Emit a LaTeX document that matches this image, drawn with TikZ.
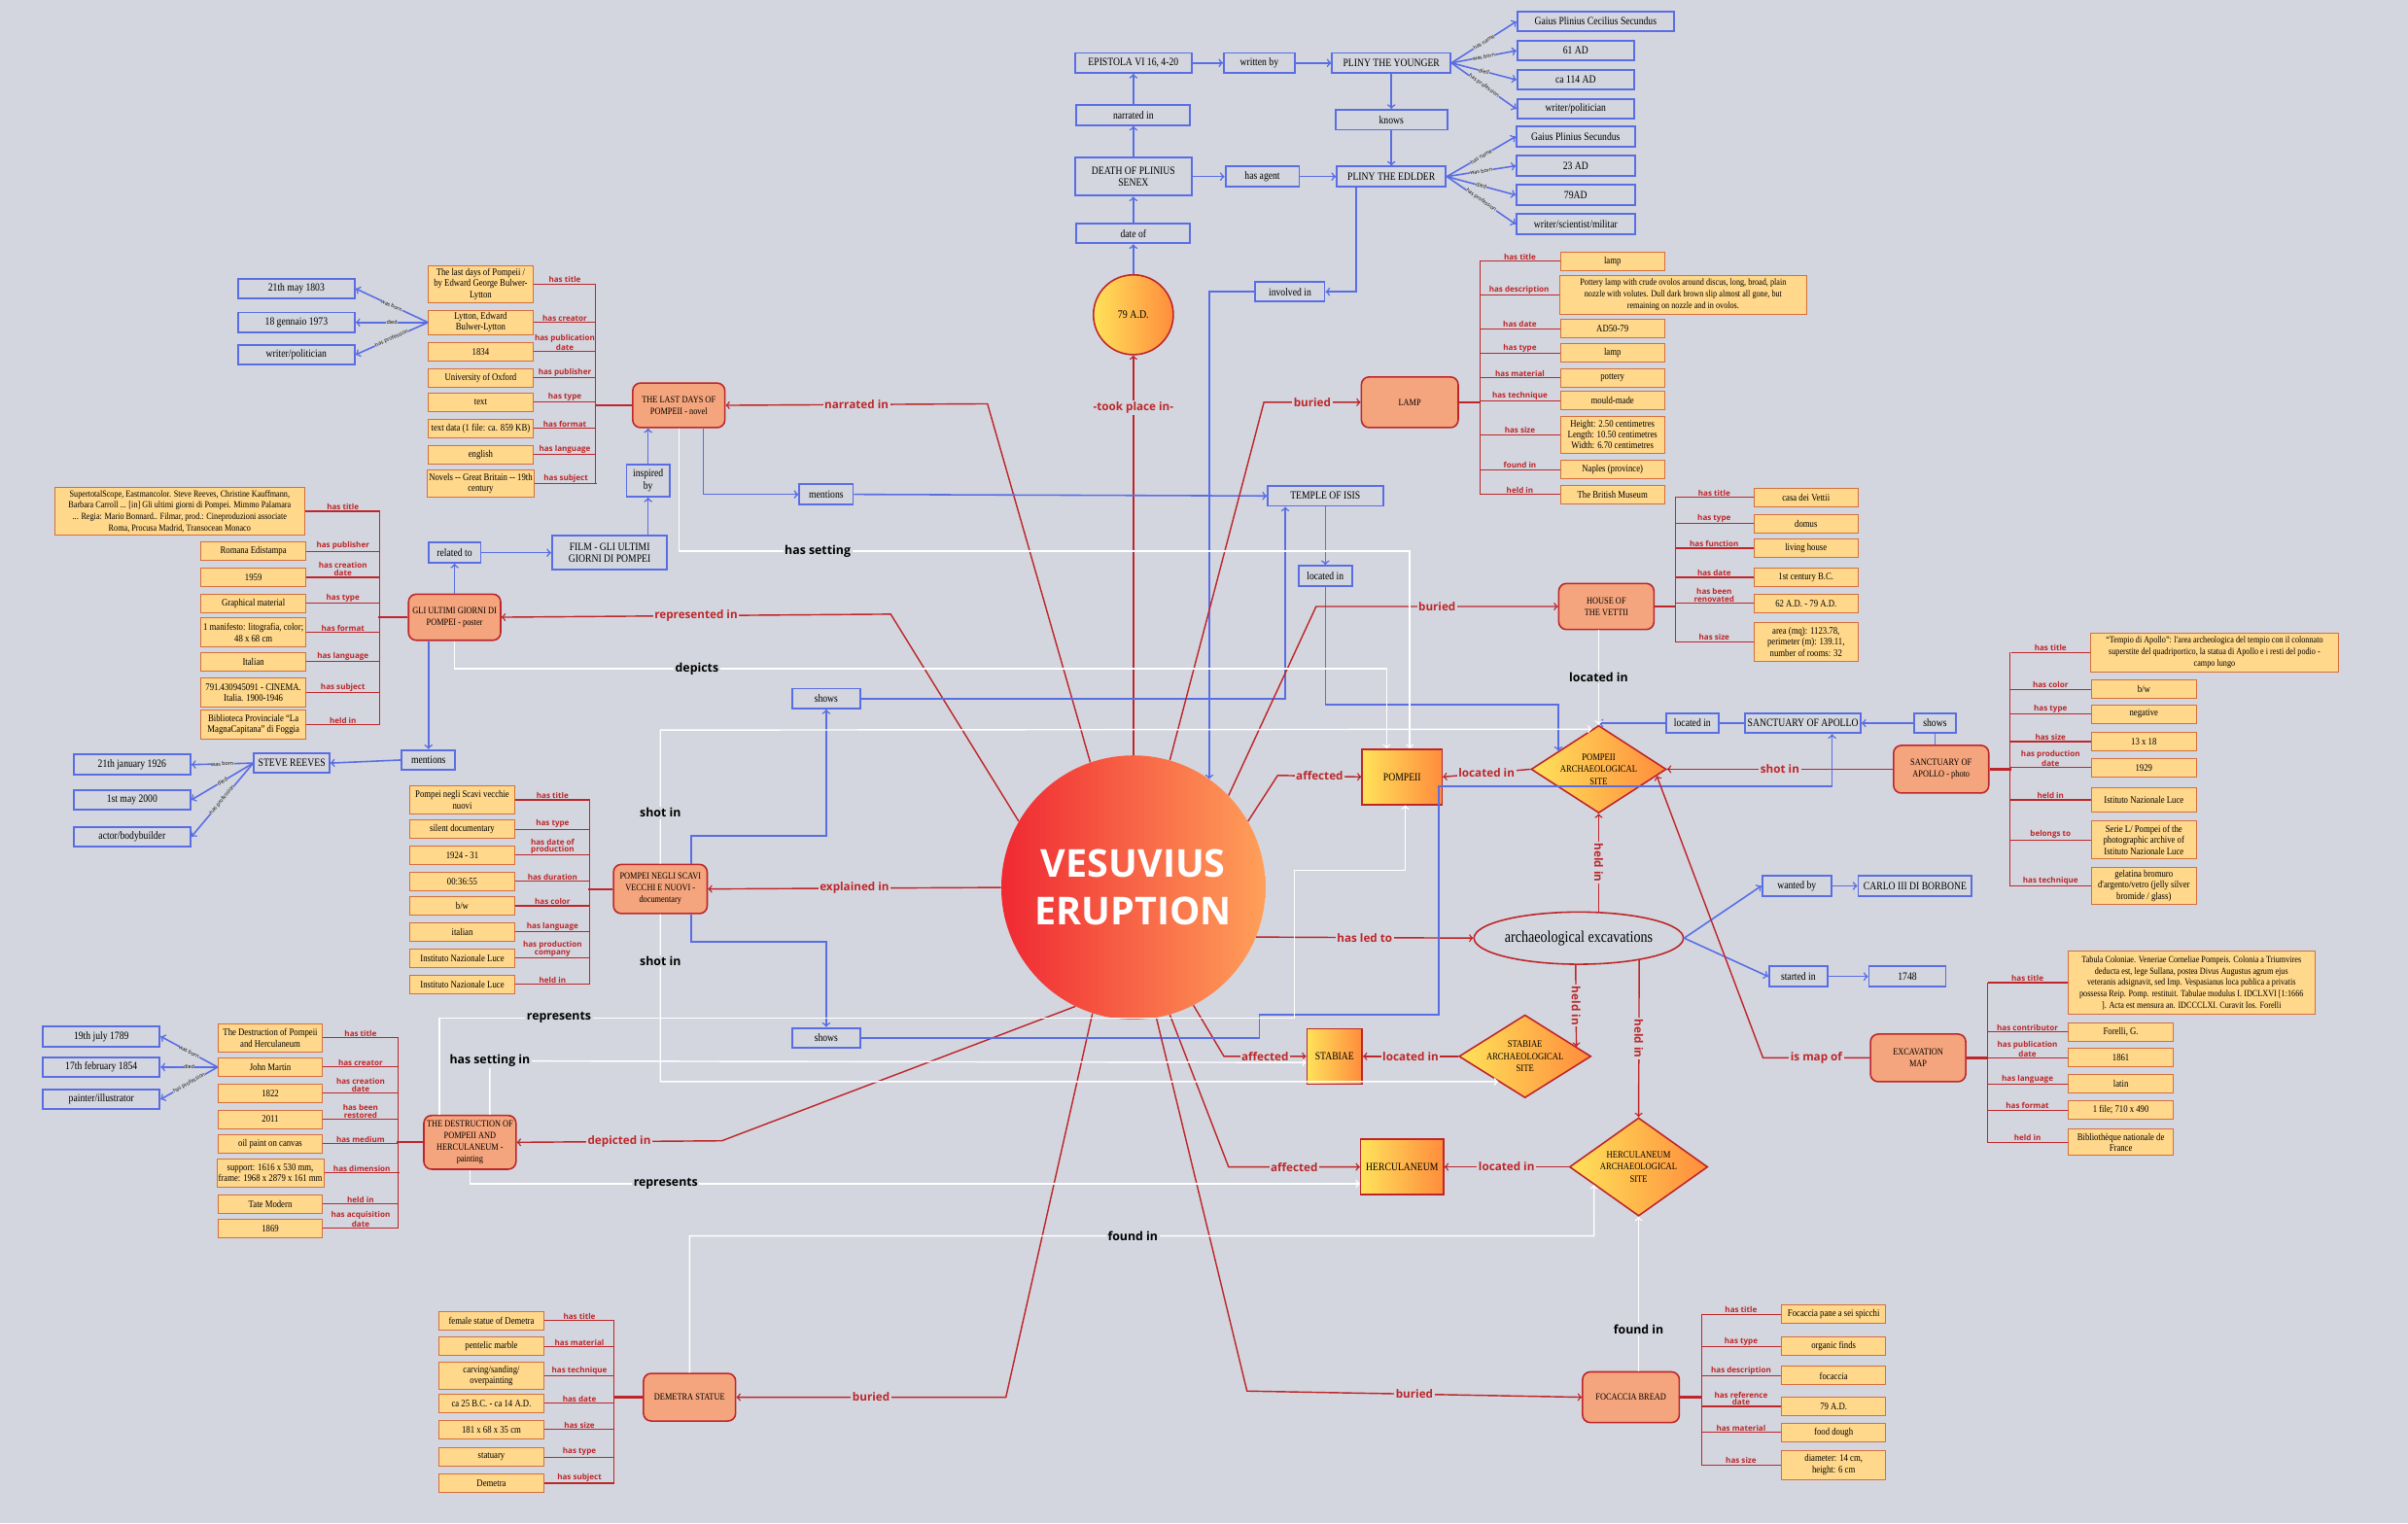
\documentclass[tikz,border=0pt]{standalone}
\usepackage{fontspec}
\setmainfont{Liberation Serif}
\newfontfamily\boxfont[FakeStretch=0.85]{Liberation Serif}
\newfontfamily\labfont{Open Sans}
\usetikzlibrary{shapes.geometric,calc}

\definecolor{bgc}{RGB}{211,214,222}
\definecolor{bluec}{RGB}{90,110,228}
\definecolor{redc}{RGB}{190,38,42}
\definecolor{attrc}{RGB}{255,216,140}
\definecolor{attrd}{RGB}{214,110,60}
\definecolor{salmonc}{RGB}{245,165,125}
\definecolor{yellowc}{RGB}{255,226,90}
\definecolor{orangec}{RGB}{255,140,60}
\definecolor{eruptl}{RGB}{240,40,50}
\definecolor{eruptr}{RGB}{255,160,90}

\tikzset{
  bluebox/.style={draw=bluec, line width=1.2pt, fill=bgc, inner sep=1.5pt, minimum height=13pt, align=center, font=\boxfont\fontsize{7.2}{8}\selectfont},
  attrbox/.style={draw=attrd, line width=0.6pt, fill=attrc, inner sep=1pt, minimum width=68pt, minimum height=12pt, align=center, font=\boxfont\fontsize{6.5}{7.2}\selectfont},
  parbox/.style={attrbox, font=\boxfont\fontsize{6.1}{7.4}\selectfont},
  resbox/.style={draw=redc, line width=1pt, fill=salmonc, rounded corners=5pt, minimum width=61pt, minimum height=31pt, inner sep=1pt, align=center, font=\boxfont\fontsize{6.2}{7.6}\selectfont},
  placebox/.style={draw=redc, line width=1pt, left color=yellowc, right color=orangec, minimum height=36pt, inner sep=1pt, font=\boxfont\fontsize{7.2}{8}\selectfont},
  sitebox/.style={diamond, aspect=1.6, draw=redc, line width=1pt, left color=yellowc, right color=orangec, inner sep=0pt, align=center, font=\boxfont\fontsize{6.4}{7.8}\selectfont},
  redarr/.style={draw=redc, line width=0.9pt, ->},
  bluearr/.style={draw=bluec, line width=1pt, ->},
  blueln/.style={draw=bluec, line width=1pt},
  whitearr/.style={draw=white, line width=0.9pt, ->},
  attrln/.style={draw=redc, line width=0.7pt},
  redlab/.style={fill=bgc, inner sep=1pt, text=redc, font=\labfont\bfseries\fontsize{7.4}{8}\selectfont},
  blklab/.style={fill=bgc, inner sep=1pt, text=black, font=\labfont\bfseries\fontsize{7.8}{8}\selectfont},
  attrlab/.style={inner sep=0.5pt, text=redc, align=center, font=\labfont\bfseries\fontsize{5.1}{4.8}\selectfont},
  fanlab/.style={sloped, fill=bgc, inner sep=0.2pt, text=black, font=\labfont\fontsize{3.4}{3.4}\selectfont},
}

\begin{document}
\begin{tikzpicture}[x=1pt,y=-1pt]
    \fill[bgc] (0,0) rectangle (1568,992);
    \useasboundingbox (0,0) rectangle (1568,992);

    %eruption
    \node[circle, minimum size=172pt, inner sep=0pt, left color=eruptl, right color=eruptr, text=white, align=center, font=\labfont\bfseries\fontsize{25}{31}\selectfont] (V) at (738,578) {VESUVIUS\\ERUPTION};
    \node[circle, draw=redc, line width=1pt, minimum size=52pt, inner sep=0pt, left color=yellowc, right color=orangec, font=\boxfont\fontsize{7.4}{8}\selectfont] (T79) at (738,205) {79 A.D.};

    %pliny
    \node[bluebox, minimum width=76pt] (EP) at (738,41) {EPISTOLA VI 16, 4-20};
    \node[bluebox, minimum width=46pt] (WB) at (820,41) {written by};
    \node[bluebox, minimum width=77pt] (PY) at (906,41) {PLINY THE YOUNGER};
    \node[bluebox, minimum width=102pt] (PYn) at (1039,14) {Gaius Plinius Cecilius Secundus};
    \node[bluebox, minimum width=76pt] (PYb) at (1026,33) {61 AD};
    \node[bluebox, minimum width=76pt] (PYd) at (1026,52) {ca 114 AD};
    \node[bluebox, minimum width=76pt] (PYp) at (1026,71) {writer/politician};
    \node[bluebox, minimum width=74pt] (NI) at (738,75) {narrated in};
    \node[bluebox, minimum width=73pt] (KN) at (906,78) {knows};
    \node[bluebox, minimum width=76pt, minimum height=25pt] (DP) at (738,115) {DEATH OF PLINIUS\\SENEX};
    \node[bluebox, minimum width=48pt] (HA) at (822,115) {has agent};
    \node[bluebox, minimum width=71pt] (PE) at (906,115) {PLINY THE EDLDER};
    \node[bluebox, minimum width=77pt] (PEn) at (1026,89) {Gaius Plinius Secundus};
    \node[bluebox, minimum width=77pt] (PEb) at (1026,108) {23 AD};
    \node[bluebox, minimum width=77pt] (PEd) at (1026,127) {79AD};
    \node[bluebox, minimum width=77pt] (PEp) at (1026,146) {writer/scientist/militar};
    \node[bluebox, minimum width=74pt] (DO) at (738,152) {date of};
    \node[bluebox, minimum width=45pt] (INV) at (840,190) {involved in};

    \draw[bluearr] (T79.north) -- (DO.south);
    \draw[bluearr] (DO.north) -- (DP.south);
    \draw[bluearr] (DP.north) -- (NI.south);
    \draw[bluearr] (NI.north) -- (EP.south);
    \draw[bluearr] (EP.east) -- (WB.west);
    \draw[bluearr] (WB.east) -- (PY.west);
    \draw[bluearr] (DP.east) -- (HA.west);
    \draw[bluearr] (HA.east) -- (PE.west);
    \draw[bluearr] (PY.south) -- (KN.north);
    \draw[bluearr] (KN.south) -- (PE.north);
    \draw[bluearr] (PY.east) -- node[fanlab]{has name} (PYn.west);
    \draw[bluearr] (PY.east) -- node[fanlab]{was born} (PYb.west);
    \draw[bluearr] (PY.east) -- node[fanlab]{died} (PYd.west);
    \draw[bluearr] (PY.east) -- node[fanlab]{has profession} (PYp.west);
    \draw[bluearr] (PE.east) -- node[fanlab]{has name} (PEn.west);
    \draw[bluearr] (PE.east) -- node[fanlab]{was born} (PEb.west);
    \draw[bluearr] (PE.east) -- node[fanlab]{died} (PEd.west);
    \draw[bluearr] (PE.east) -- node[fanlab]{has profession} (PEp.west);
    \draw[bluearr] ([xshift=-23pt]PE.south) |- (INV.east);
    \draw[bluearr] (INV.west) -| (V.55);
    \draw[redarr] (V.north) -- node[redlab, pos=0.87]{-took place in-} (T79.south);

    %novel
    \node[resbox, minimum width=60pt, minimum height=29pt] (NOV) at (442,264) {THE LAST DAYS OF\\POMPEII - novel};
    \node[attrbox, minimum height=24pt] (nov1) at (313,185) {The last days of Pompeii /\\by Edward George Bulwer-\\Lytton};
    \node[attrbox, minimum height=16pt] (nov2) at (313,210) {Lytton, Edward\\Bulwer-Lytton};
    \node[attrbox] (nov3) at (313,229) {1834};
    \node[attrbox] (nov4) at (313,246) {University of Oxford};
    \node[attrbox] (nov5) at (313,262) {text};
    \node[attrbox] (nov6) at (313,279) {text data (1 file: ca. 859 KB)};
    \node[attrbox] (nov7) at (313,296) {english};
    \node[attrbox, minimum height=18pt] (nov8) at (313,315) {Novels -- Great Britain -- 19th\\century};
    \draw[attrln] (nov1.east) -- +(41,0) node[attrlab, midway, above]{has title};
    \draw[attrln] (nov2.east) -- +(41,0) node[attrlab, midway, above]{has creator};
    \draw[attrln] (nov3.east) -- +(41,0) node[attrlab, midway, above]{has publication\\date};
    \draw[attrln] (nov4.east) -- +(41,0) node[attrlab, midway, above]{has publisher};
    \draw[attrln] (nov5.east) -- +(41,0) node[attrlab, midway, above]{has type};
    \draw[attrln] (nov6.east) -- +(41,0) node[attrlab, midway, above]{has format};
    \draw[attrln] (nov7.east) -- +(41,0) node[attrlab, midway, above]{has language};
    \draw[attrln] (nov8.east) -- +(41,0) node[attrlab, midway, above]{has subject};
    \draw[attrln] (388,185) -- (388,315);
    \draw[attrln, line width=1.4pt] (NOV.west) -- +(-24,0);
    \node[bluebox, minimum width=76pt] (LYa) at (193,188) {21th may 1803};
    \node[bluebox, minimum width=76pt] (LYb) at (193,210) {18 gennaio 1973};
    \node[bluebox, minimum width=76pt] (LYc) at (193,231) {writer/politician};
    \draw[bluearr] (nov2.west) -- node[fanlab]{was born} (LYa.east);
    \draw[bluearr] (nov2.west) -- node[fanlab]{died} (LYb.east);
    \draw[bluearr] (nov2.west) -- node[fanlab]{has profession} (LYc.east);
    \draw[redarr] (V.109) -- (643,263) -- node[redlab]{narrated in} (NOV.east);

    \node[bluebox, minimum width=28pt, minimum height=21pt] (INSP) at (422,313) {inspired\\by};
    \node[bluebox, minimum width=75pt, minimum height=22pt] (FILM) at (397,360) {FILM - GLI ULTIMI\\GIORNI DI POMPEI};
    \node[bluebox, minimum width=34pt] (REL) at (296,360) {related to};
    \node[bluebox, minimum width=35pt] (MEN1) at (538,322) {mentions};
    \node[bluebox, minimum width=75pt] (TOI) at (863,323) {TEMPLE OF ISIS};
    \node[bluebox, minimum width=35pt] (LOC1) at (863,375) {located in};
    \draw[bluearr] (INSP.south |- FILM.north) -- (INSP.south);
    \draw[bluearr] (INSP.north) -- (INSP.north |- NOV.south);
    \draw[bluearr] ([xshift=16pt]NOV.south) |- (MEN1.west);
    \draw[bluearr] (MEN1.east) -- (TOI.west);
    \draw[bluearr] (TOI.south) -- (LOC1.north);

    %poster
    \node[resbox, minimum width=60pt, minimum height=30pt] (POS) at (296,402) {GLI ULTIMI GIORNI DI\\POMPEI - poster};
    \node[parbox, minimum width=163pt, minimum height=31pt] (pos1) at (117,333) {SupertotalScope, Eastmancolor. Steve Reeves, Christine Kauffmann,\\Barbara Carroll ... [in] Gli ultimi giorni di Pompei. Mimmo Palamara\\... Regia: Mario Bonnard.. Filmar, prod.: Cineproduzioni associate\\Roma, Procusa Madrid, Transocean Monaco};
    \node[attrbox] (pos2) at (165,359) {Romana Edistampa};
    \node[attrbox] (pos3) at (165,376) {1959};
    \node[attrbox] (pos4) at (165,393) {Graphical material};
    \node[attrbox, minimum height=19pt] (pos5) at (165,412) {1 manifesto: litografia, color;\\48 x 68 cm};
    \node[attrbox] (pos6) at (165,431) {Italian};
    \node[attrbox, minimum height=19pt] (pos7) at (165,451) {791.430945091 - CINEMA.\\Italia. 1900-1946};
    \node[attrbox, minimum height=19pt] (pos8) at (165,472) {Biblioteca Provinciale “La\\MagnaCapitana” di Foggia};
    \draw[attrln] (pos1.east) -- +(49,0) node[attrlab, midway, above]{has title};
    \draw[attrln] (pos2.east) -- +(48,0) node[attrlab, midway, above]{has publisher};
    \draw[attrln] (pos3.east) -- +(48,0) node[attrlab, midway, above]{has creation\\date};
    \draw[attrln] (pos4.east) -- +(48,0) node[attrlab, midway, above]{has type};
    \draw[attrln] (pos5.east) -- +(48,0) node[attrlab, midway, above]{has format};
    \draw[attrln] (pos6.east) -- +(48,0) node[attrlab, midway, above]{has language};
    \draw[attrln] (pos7.east) -- +(48,0) node[attrlab, midway, above]{has subject};
    \draw[attrln] (pos8.east) -- +(48,0) node[attrlab, midway, above]{held in};
    \draw[attrln] (247,333) -- (247,472);
    \draw[attrln, line width=1.4pt] (POS.west) -- +(-19,0);
    \draw[redarr] (V.150) -- (580,400) -- node[redlab]{represented in} (POS.east);
    \draw[bluearr] (POS.north) -- (REL.south);
    \draw[bluearr] (REL.east) -- (FILM.west);

    \node[bluebox, minimum width=35pt] (MEN2) at (279,495) {mentions};
    \node[bluebox, minimum width=49pt] (SR) at (190,497) {STEVE REEVES};
    \node[bluebox, minimum width=76pt] (SRa) at (86,498) {21th january 1926};
    \node[bluebox, minimum width=76pt] (SRb) at (86,521) {1st may 2000};
    \node[bluebox, minimum width=76pt] (SRc) at (86,545) {actor/bodybuilder};
    \draw[bluearr] (MEN2.north |- POS.south) -- (MEN2.north);
    \draw[bluearr] (MEN2.west) -- (SR.east);
    \draw[bluearr] (SR.west) -- node[fanlab]{was born} (SRa.east);
    \draw[bluearr] (SR.west) -- node[fanlab]{died} (SRb.east);
    \draw[bluearr] (SR.west) -- node[fanlab]{has profession} (SRc.east);

    %documentary
    \node[resbox, minimum width=61pt, minimum height=32pt] (DOC) at (430,579) {POMPEI NEGLI SCAVI\\VECCHI E NUOVI -\\documentary};
    \node[attrbox, minimum height=18pt] (doc1) at (301,521) {Pompei negli Scavi vecchie\\nuovi};
    \node[attrbox] (doc2) at (301,540) {silent documentary};
    \node[attrbox] (doc3) at (301,557) {1924 - 31};
    \node[attrbox] (doc4) at (301,574) {00:36:55};
    \node[attrbox] (doc5) at (301,590) {b/w};
    \node[attrbox] (doc6) at (301,607) {italian};
    \node[attrbox] (doc7) at (301,624) {Instituto Nazionale Luce};
    \node[attrbox] (doc8) at (301,641) {Instituto Nazionale Luce};
    \draw[attrln] (doc1.east) -- +(49,0) node[attrlab, midway, above]{has title};
    \draw[attrln] (doc2.east) -- +(49,0) node[attrlab, midway, above]{has type};
    \draw[attrln] (doc3.east) -- +(49,0) node[attrlab, midway, above]{has date of\\production};
    \draw[attrln] (doc4.east) -- +(49,0) node[attrlab, midway, above]{has duration};
    \draw[attrln] (doc5.east) -- +(49,0) node[attrlab, midway, above]{has color};
    \draw[attrln] (doc6.east) -- +(49,0) node[attrlab, midway, above]{has language};
    \draw[attrln] (doc7.east) -- +(49,0) node[attrlab, midway, above]{has production\\company};
    \draw[attrln] (doc8.east) -- +(49,0) node[attrlab, midway, above]{held in};
    \draw[attrln] (384,521) -- (384,641);
    \draw[attrln, line width=1.4pt] (DOC.west) -- +(-16,0);
    \draw[redarr] (V.west) -- node[redlab]{explained in} (DOC.east);
    \node[bluebox, minimum width=44pt] (SH1) at (538,455) {shows};
    \node[bluebox, minimum width=44pt] (SH2) at (538,676) {shows};
    \draw[bluearr] ([xshift=20pt]DOC.north) -- ++(0,-18) -| (SH1.south);
    \draw[bluearr] ([xshift=20pt]DOC.south) -- ++(0,18) -| (SH2.north);

    %painting
    \node[resbox, minimum width=60pt, minimum height=35pt] (PNT) at (306,744) {THE DESTRUCTION OF\\POMPEII AND\\HERCULANEUM -\\painting};
    \node[attrbox, minimum height=18pt] (pnt1) at (176,676) {The Destruction of Pompeii\\and Herculaneum};
    \node[attrbox] (pnt2) at (176,695) {John Martin};
    \node[attrbox] (pnt3) at (176,712) {1822};
    \node[attrbox] (pnt4) at (176,729) {2011};
    \node[attrbox] (pnt5) at (176,745) {oil paint on canvas};
    \node[attrbox, minimum height=18pt] (pnt6) at (176,764) {support: 1616 x 530 mm,\\frame: 1968 x 2879 x 161 mm};
    \node[attrbox] (pnt7) at (176,784) {Tate Modern};
    \node[attrbox] (pnt8) at (176,800) {1869};
    \draw[attrln] (pnt1.east) -- +(49,0) node[attrlab, midway, above]{has title};
    \draw[attrln] (pnt2.east) -- +(49,0) node[attrlab, midway, above]{has creator};
    \draw[attrln] (pnt3.east) -- +(49,0) node[attrlab, midway, above]{has creation\\date};
    \draw[attrln] (pnt4.east) -- +(49,0) node[attrlab, midway, above]{has been\\restored};
    \draw[attrln] (pnt5.east) -- +(49,0) node[attrlab, midway, above]{has medium};
    \draw[attrln] (pnt6.east) -- +(49,0) node[attrlab, midway, above]{has dimension};
    \draw[attrln] (pnt7.east) -- +(49,0) node[attrlab, midway, above]{held in};
    \draw[attrln] (pnt8.east) -- +(49,0) node[attrlab, midway, above]{has acquisition\\date};
    \draw[attrln] (259,676) -- (259,800);
    \draw[attrln, line width=1.4pt] (PNT.west) -- +(-17,0);
    \node[bluebox, minimum width=76pt] (JMa) at (66,675) {19th july 1789};
    \node[bluebox, minimum width=76pt] (JMb) at (66,695) {17th february 1854};
    \node[bluebox, minimum width=76pt] (JMc) at (66,716) {painter/illustrator};
    \draw[bluearr] (pnt2.west) -- node[fanlab]{was born} (JMa.east);
    \draw[bluearr] (pnt2.west) -- node[fanlab]{died} (JMb.east);
    \draw[bluearr] (pnt2.west) -- node[fanlab]{has profession} (JMc.east);
    \draw[redarr] (V.-116) -- (470,743) -- node[redlab]{depicted in} (PNT.east);

    %demetra
    \node[resbox, minimum width=60pt, minimum height=31pt] (DEM) at (449,910) {DEMETRA STATUE};
    \node[attrbox] (dem1) at (320,860) {female statue of Demetra};
    \node[attrbox] (dem2) at (320,877) {pentelic marble};
    \node[attrbox, minimum height=18pt] (dem3) at (320,896) {carving/sanding/\\overpainting};
    \node[attrbox] (dem4) at (320,914) {ca 25 B.C. - ca 14 A.D.};
    \node[attrbox] (dem5) at (320,931) {181 x 68 x 35 cm};
    \node[attrbox] (dem6) at (320,949) {statuary};
    \node[attrbox] (dem7) at (320,966) {Demetra};
    \draw[attrln] (dem1.east) -- +(46,0) node[attrlab, midway, above]{has title};
    \draw[attrln] (dem2.east) -- +(46,0) node[attrlab, midway, above]{has material};
    \draw[attrln] (dem3.east) -- +(46,0) node[attrlab, midway, above]{has technique};
    \draw[attrln] (dem4.east) -- +(46,0) node[attrlab, midway, above]{has date};
    \draw[attrln] (dem5.east) -- +(46,0) node[attrlab, midway, above]{has size};
    \draw[attrln] (dem6.east) -- +(46,0) node[attrlab, midway, above]{has type};
    \draw[attrln] (dem7.east) -- +(46,0) node[attrlab, midway, above]{has subject};
    \draw[attrln] (400,860) -- (400,966);
    \draw[attrln, line width=1.4pt] (DEM.west) -- +(-19,0);
    \draw[redarr] (V.-108) -- (655,910) -- node[redlab]{buried} (DEM.east);

    %places and sites
    \node[placebox, minimum width=52pt] (POM) at (913,506) {POMPEII};
    \node[placebox, minimum width=36pt] (STA) at (869,688) {STABIAE};
    \node[placebox, minimum width=54pt] (HER) at (913,760) {HERCULANEUM};
    \node[sitebox, minimum width=88pt, minimum height=57pt] (PAS) at (1041,501) {POMPEII\\ARCHAEOLOGICAL\\SITE};
    \node[sitebox, minimum width=86pt, minimum height=54pt] (SAS) at (993,688) {STABIAE\\ARCHAEOLOGICAL\\SITE};
    \node[sitebox, minimum width=90pt, minimum height=64pt] (HAS) at (1067,760) {HERCULANEUM\\ARCHAEOLOGICAL\\SITE};
    \node[ellipse, draw=redc, line width=1pt, fill=bgc, minimum width=136pt, minimum height=34pt, inner sep=0pt, font=\boxfont\fontsize{10.5}{11}\selectfont] (EXC) at (1028,611) {archaeological excavations};

    \draw[redarr] (V.30) -- (832,505) -- node[redlab]{affected} (POM.west);
    \draw[redarr] (V.-63) -- (797,688) -- node[redlab]{affected} (STA.west);
    \draw[redarr] (V.-74) -- (800,760) -- node[redlab]{affected} (HER.west);
    \draw[redarr] (PAS.west) -- node[redlab]{located in} (POM.east);
    \draw[redarr] (SAS.west) -- node[redlab]{located in} (STA.east);
    \draw[redarr] (HAS.west) -- node[redlab]{located in} (HER.east);
    \draw[redarr] (V.-22.6) -- node[redlab]{has led to} (EXC.west);
    \draw[redarr] (PAS.south |- EXC.north) -- node[redlab, rotate=-90]{held in} (PAS.south);
    \draw[redarr] ([xshift=-2pt]EXC.south) -- node[redlab, rotate=-90]{held in} ($(SAS.east)!0.23!(SAS.north)$);
    \draw[redarr] (EXC.-20) -- node[redlab, rotate=-90]{held in} (HAS.north);

    \node[bluebox, minimum width=45pt] (WBY) at (1170,577) {wanted by};
    \node[bluebox, minimum width=74pt] (CAR) at (1247,577) {CARLO III DI BORBONE};
    \node[bluebox, minimum width=38pt] (STI) at (1171,636) {started in};
    \node[bluebox, minimum width=50pt] (Y1748) at (1242,636) {1748};
    \draw[bluearr] (EXC.east) -- (WBY.west);
    \draw[bluearr] (WBY.east) -- (CAR.west);
    \draw[bluearr] (EXC.east) -- (STI.west);
    \draw[bluearr] (STI.east) -- (Y1748.west);

    \draw[bluearr] (SH1.east) -| ([xshift=12pt]TOI.south west);
    \draw[bluearr] (LOC1.south) -- ++(0,77) -| ($(PAS.west)!0.41!(PAS.north)$);

    %lamp
    \node[resbox, minimum width=63pt, minimum height=33pt] (LAMP) at (918,262) {LAMP};
    \node[attrbox] (lmp1) at (1050,170) {lamp};
    \node[parbox, minimum width=161pt, minimum height=25pt] (lmp2) at (1096,192) {Pottery lamp with crude ovolos around discus, long, broad, plain\\nozzle with volutes. Dull dark brown slip almost all gone, but\\remaining on nozzle and in ovolos.};
    \node[attrbox] (lmp3) at (1050,214) {AD50-79};
    \node[attrbox] (lmp4) at (1050,230) {lamp};
    \node[attrbox] (lmp5) at (1050,246) {pottery};
    \node[attrbox] (lmp6) at (1050,261) {mould-made};
    \node[attrbox, minimum height=24pt] (lmp7) at (1050,283) {Height: 2.50 centimetres\\Length: 10.50 centimetres\\Width: 6.70 centimetres};
    \node[attrbox] (lmp8) at (1050,306) {Naples (province)};
    \node[attrbox] (lmp9) at (1050,322) {The British Museum};
    \draw[attrln] (lmp1.west) -- +(-52,0) node[attrlab, midway, above]{has title};
    \draw[attrln] (lmp2.west) -- +(-52,0) node[attrlab, midway, above]{has description};
    \draw[attrln] (lmp3.west) -- +(-52,0) node[attrlab, midway, above]{has date};
    \draw[attrln] (lmp4.west) -- +(-52,0) node[attrlab, midway, above]{has type};
    \draw[attrln] (lmp5.west) -- +(-52,0) node[attrlab, midway, above]{has material};
    \draw[attrln] (lmp6.west) -- +(-52,0) node[attrlab, midway, above]{has technique};
    \draw[attrln] (lmp7.west) -- +(-52,0) node[attrlab, midway, above]{has size};
    \draw[attrln] (lmp8.west) -- +(-52,0) node[attrlab, midway, above]{found in};
    \draw[attrln] (lmp9.west) -- +(-52,0) node[attrlab, midway, above]{held in};
    \draw[attrln] (964,170) -- (964,322);
    \draw[attrln, line width=1.4pt] (LAMP.east) -- +(14,0);
    \draw[redarr] (V.74) -- (823,262) -- node[redlab]{buried} (LAMP.west);

    %house of the vettii
    \node[resbox, minimum width=62pt, minimum height=30pt] (HOV) at (1046,395) {HOUSE OF\\THE VETTII};
    \node[attrbox] (hov1) at (1176,324) {casa dei Vettii};
    \node[attrbox] (hov2) at (1176,341) {domus};
    \node[attrbox] (hov3) at (1176,357) {living house};
    \node[attrbox] (hov4) at (1176,376) {1st century B.C.};
    \node[attrbox] (hov5) at (1176,393) {62 A.D. - 79 A.D.};
    \node[attrbox, minimum height=25pt] (hov6) at (1176,418) {area (mq): 1123.78,\\perimeter (m): 139.11,\\number of rooms: 32};
    \draw[attrln] (hov1.west) -- +(-51,0) node[attrlab, midway, above]{has title};
    \draw[attrln] (hov2.west) -- +(-51,0) node[attrlab, midway, above]{has type};
    \draw[attrln] (hov3.west) -- +(-51,0) node[attrlab, midway, above]{has function};
    \draw[attrln] (hov4.west) -- +(-51,0) node[attrlab, midway, above]{has date};
    \draw[attrln] (hov5.west) -- +(-51,0) node[attrlab, midway, above]{has been\\renovated};
    \draw[attrln] (hov6.west) -- +(-51,0) node[attrlab, midway, above]{has size};
    \draw[attrln] (1091,324) -- (1091,418);
    \draw[attrln, line width=1.4pt] (HOV.east) -- +(14,0);
    \draw[redarr] (V.44) -- (857,395) -- node[redlab]{buried} (HOV.west);

    %sanctuary of apollo
    \node[bluebox, minimum width=74pt] (SAP) at (1174,471) {SANCTUARY OF APOLLO};
    \node[bluebox, minimum width=27pt] (SHW) at (1260,471) {shows};
    \node[bluebox, minimum width=34pt] (LOC2) at (1102,471) {located in};
    \node[resbox, minimum width=62pt, minimum height=31pt] (PHO) at (1264,501) {SANCTUARY OF\\APOLLO - photo};
    \node[parbox, minimum width=162pt, minimum height=25pt] (pho1) at (1442,425) {“Tempio di Apollo”: l'area archeologica del tempio con il colonnato\\superstite del quadriportico, la statua di Apollo e i resti del podio -\\campo lungo};
    \node[attrbox] (pho2) at (1396,449) {b/w};
    \node[attrbox] (pho3) at (1396,465) {negative};
    \node[attrbox] (pho4) at (1396,483) {13 x 18};
    \node[attrbox] (pho5) at (1396,500) {1929};
    \node[attrbox, minimum height=16pt] (pho6) at (1396,521) {Istituto Nazionale Luce};
    \node[attrbox, minimum height=25pt] (pho7) at (1396,547) {Serie L/ Pompei of the\\photographic archive of\\Istituto Nazionale Luce};
    \node[attrbox, minimum height=24pt] (pho8) at (1396,577) {gelatina bromuro\\d'argento/vetro (jelly silver\\bromide / glass)};
    \draw[attrln] (pho1.west) -- +(-51,0) node[attrlab, midway, above]{has title};
    \draw[attrln] (pho2.west) -- +(-53,0) node[attrlab, midway, above]{has color};
    \draw[attrln] (pho3.west) -- +(-53,0) node[attrlab, midway, above]{has type};
    \draw[attrln] (pho4.west) -- +(-53,0) node[attrlab, midway, above]{has size};
    \draw[attrln] (pho5.west) -- +(-53,0) node[attrlab, midway, above]{has production\\date};
    \draw[attrln] (pho6.west) -- +(-53,0) node[attrlab, midway, above]{held in};
    \draw[attrln] (pho7.west) -- +(-53,0) node[attrlab, midway, above]{belongs to};
    \draw[attrln] (pho8.west) -- +(-53,0) node[attrlab, midway, above]{has technique};
    \draw[attrln] (1309,425) -- (1309,577);
    \draw[attrln, line width=1.4pt] (PHO.east) -- +(14,0);
    \draw[blueln] ([xshift=-4pt]PHO.north) -- (SHW.south);
    \draw[bluearr] (SHW.west) -- (SAP.east);
    \draw[blueln] (SAP.west) -- (LOC2.east);
    \draw[bluearr] (LOC2.west) -- (LOC2.west -| PAS.north);
    \draw[redarr] (PHO.west) -- node[redlab]{shot in} (PAS.east);
    \draw[bluearr] (SH2.east) -| (820,661) -| (937,512) -| ([xshift=19pt]SAP.south);

    %excavation map
    \node[resbox, minimum width=62pt, minimum height=31pt] (MAP) at (1249,689) {EXCAVATION\\MAP};
    \node[parbox, minimum width=161pt, minimum height=41pt] (map1) at (1427,640) {Tabula Coloniae. Veneriae Corneliae Pompeis. Colonia a Triumvires\\deducta est, lege Sullana, postea Divus Augustus agrum ejus\\veteranis adsignavit, sed Imp. Vespasianus loca publica a privatis\\possessa Reip. Pomp. restituit. Tabulae modulus I. IDCLXVI [1:1666\\]. Acta est mensura an. IDCCCLXI. Curavit Ios. Forelli};
    \node[attrbox] (map2) at (1381,672) {Forelli, G.};
    \node[attrbox] (map3) at (1381,689) {1861};
    \node[attrbox] (map4) at (1381,706) {latin};
    \node[attrbox] (map5) at (1381,723) {1 file; 710 x 490};
    \node[attrbox, minimum height=17pt] (map6) at (1381,744) {Bibliothèque nationale de\\France};
    \draw[attrln] (map1.west) -- +(-52,0) node[attrlab, midway, above]{has title};
    \draw[attrln] (map2.west) -- +(-53,0) node[attrlab, midway, above]{has contributor};
    \draw[attrln] (map3.west) -- +(-53,0) node[attrlab, midway, above]{has publication\\date};
    \draw[attrln] (map4.west) -- +(-53,0) node[attrlab, midway, above]{has language};
    \draw[attrln] (map5.west) -- +(-53,0) node[attrlab, midway, above]{has format};
    \draw[attrln] (map6.west) -- +(-53,0) node[attrlab, midway, above]{held in};
    \draw[attrln] (1294,640) -- (1294,744);
    \draw[attrln, line width=1.4pt] (MAP.east) -- +(14,0);
    \draw[redarr] (MAP.west) -- node[redlab]{is map of} (1148,689) -- ($(PAS.east)!0.15!(PAS.south)$);

    %focaccia
    \node[resbox, minimum width=63pt, minimum height=33pt] (FOC) at (1062,910) {FOCACCIA BREAD};
    \node[attrbox] (foc1) at (1194,856) {Focaccia pane a sei spicchi};
    \node[attrbox] (foc2) at (1194,877) {organic finds};
    \node[attrbox] (foc3) at (1194,896) {focaccia};
    \node[attrbox] (foc4) at (1194,916) {79 A.D.};
    \node[attrbox] (foc5) at (1194,933) {food dough};
    \node[attrbox, minimum height=19pt] (foc6) at (1194,954) {diameter: 14 cm,\\height: 6 cm};
    \draw[attrln] (foc1.west) -- +(-52,0) node[attrlab, midway, above]{has title};
    \draw[attrln] (foc2.west) -- +(-52,0) node[attrlab, midway, above]{has type};
    \draw[attrln] (foc3.west) -- +(-52,0) node[attrlab, midway, above]{has description};
    \draw[attrln] (foc4.west) -- +(-52,0) node[attrlab, midway, above]{has reference\\date};
    \draw[attrln] (foc5.west) -- +(-52,0) node[attrlab, midway, above]{has material};
    \draw[attrln] (foc6.west) -- +(-52,0) node[attrlab, midway, above]{has size};
    \draw[attrln] (1108,856) -- (1108,954);
    \draw[attrln, line width=1.4pt] (FOC.east) -- +(14,0);
    \draw[redarr] (V.-80) -- (812,906) -- node[redlab]{buried} (FOC.west);

    %white relations
    \draw[whitearr] (NOV.south) -- ++(0,80) -- node[blklab, pos=0.19]{has setting} ++(476,-0) -- ([xshift=5pt]POM.north);
    \draw[whitearr] (POS.south) -- ++(0,18) -- node[blklab, pos=0.26]{depicts} ++(607,0) -- ([xshift=-10pt]POM.north);
    \draw[whitearr] (DOC.north) -- node[blklab, pos=0.38]{shot in} ++(0,-87) -- ($(PAS.north)!0.1!(PAS.west)$);
    \draw[whitearr] (DOC.south) -- node[blklab, pos=0.28]{shot in} ++(0,109) -- ($(SAS.south)!0.4!(SAS.west)$);
    \draw[whitearr] ([xshift=-20pt]PNT.north) -- ++(0,-63) -- node[blklab, pos=0.14]{represents} ++(557,0) -- ++(0,-96) -- ++(72,0) -- ([xshift=2pt]POM.south);
    \draw[whitearr] ([xshift=13pt]PNT.north) -- ++(0,-35) node[blklab]{has setting in} -- ([yshift=-4pt]STA.west);
    \draw[whitearr] (PNT.south) -- ++(0,9) -- node[blklab, pos=0.22]{represents} ([yshift=-11pt]HER.west);
    \draw[whitearr] (DEM.north) -- ++(0,-89) -- node[blklab, pos=0.49]{found in} ++(589,0) -- ($(HAS.south)!0.64!(HAS.west)$);
    \draw[whitearr] (HAS.south |- FOC.north) -- node[blklab, pos=0.27]{found in} (HAS.south);
    \draw[whitearr] (PAS.north |- HOV.south) -- node[blklab]{located in} (PAS.north);
\end{tikzpicture}
\end{document}
